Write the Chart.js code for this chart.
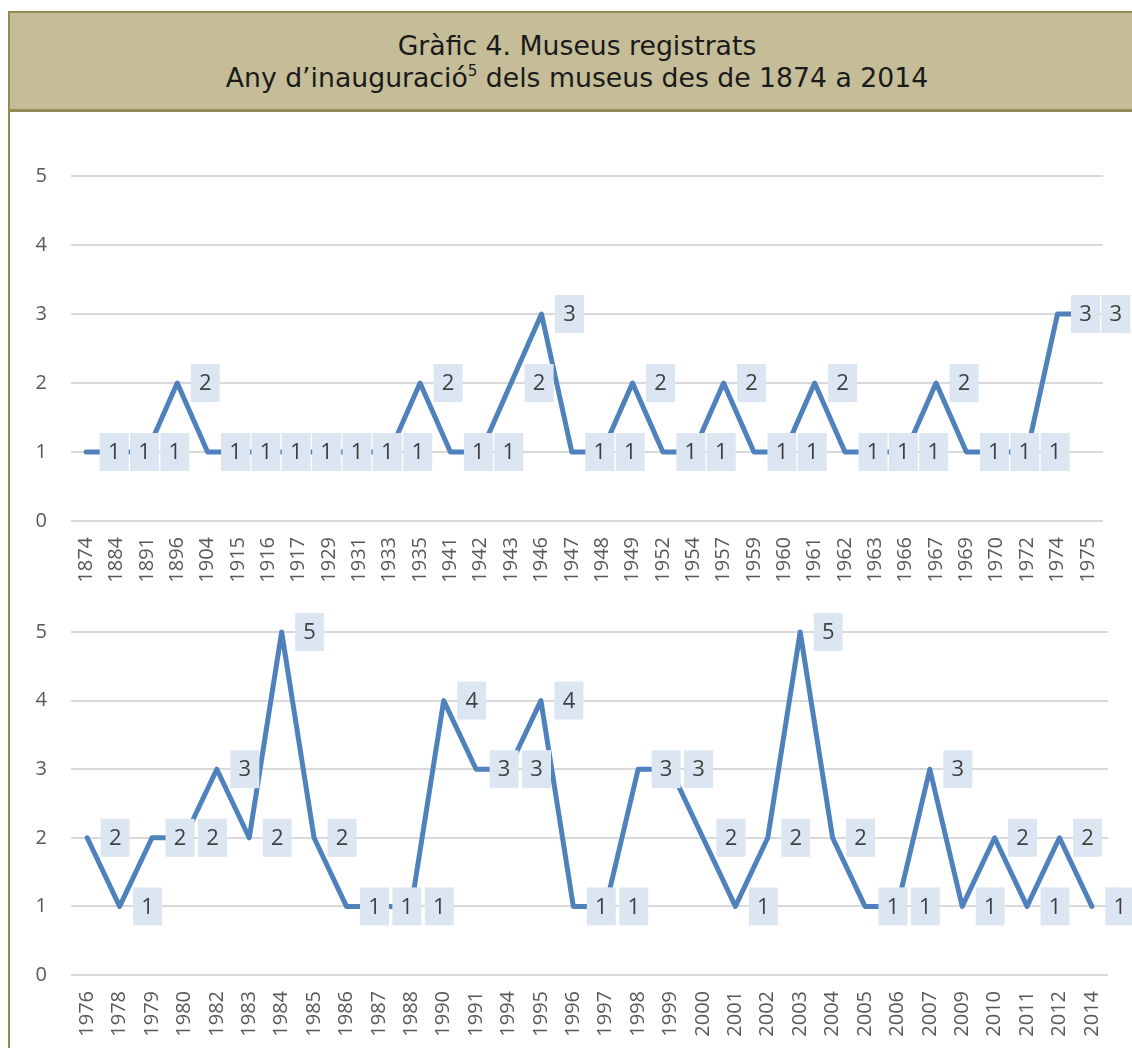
<!DOCTYPE html>
<html>
<head>
<meta charset="utf-8">
<script src="https://cdn.jsdelivr.net/npm/chart.js@4.4.0/dist/chart.umd.min.js"></script>
<style>
body{margin:0;width:1132px;height:1048px;overflow:hidden;background:#fff;position:relative;}
#leftline{position:absolute;left:8px;top:11px;width:2px;height:1040px;background:#948a54;}
#title{position:absolute;left:8px;top:11px;width:1136px;height:101px;box-sizing:border-box;background:#c4bd97;
  border-top:2px solid #948a54;border-bottom:3px solid #948a54;border-left:2px solid #948a54;
  font-family:"DejaVu Sans",sans-serif;font-size:26.7px;line-height:32px;color:#1a1a1a;text-align:center;padding-top:17px;}
#title sup{font-size:15px;line-height:0;vertical-align:0;position:relative;top:-11px;}
.wrap{position:absolute;left:10px;width:1122px;}
#w1{top:113px;height:482px;}
#w2{top:595px;height:453px;}
</style>
</head>
<body>
<div id="leftline"></div>
<div id="title">Gràfic 4. Museus registrats<br>Any d’inauguració<sup>5</sup> dels museus des de 1874 a 2014</div>
<div class="wrap" id="w1"><canvas id="chart_1" width="1122" height="482"></canvas></div>
<div class="wrap" id="w2"><canvas id="chart_2" width="1122" height="453"></canvas></div>
<script>
// 1874 - 1975
var years1 = ['1874','1884','1891','1896','1904','1915','1916','1917','1929','1931','1933','1935','1941','1942','1943','1946','1947',
              '1948','1949','1952','1954','1957','1959','1960','1961','1962','1963','1966','1967','1969','1970','1972','1974','1975'];
var museums1 = [1,1,1,2,1,1,1,1,1,1,1,2,1,1,2,3,1,
                1,2,1,1,2,1,1,2,1,1,1,2,1,1,1,3,3];

// 1976 - 2014
var years2 = ['1976','1978','1979','1980','1982','1983','1984','1985','1986','1987','1988','1990','1991','1994','1995','1996',
              '1997','1998','1999','2000','2001','2002','2003','2004','2005','2006','2007','2009','2010','2011','2012','2014'];
var museums2 = [2,1,2,2,3,2,5,2,1,1,1,4,3,3,4,1,
                1,3,3,2,1,2,5,2,1,1,3,1,2,1,2,1];

var yMin = 0;
var yMax = 5;
var yStep = 1;

var fontSize = 20;

// labels in boxes to the right of every point
var labelBoxes = {
    id: 'labelBoxes',
    afterDatasetsDraw: function(chart){
        var ctx = chart.ctx;
        var meta = chart.getDatasetMeta(0);
        var vals = chart.data.datasets[0].data;
        ctx.save();
        ctx.font = '22px "Open Sans"';
        ctx.textAlign = 'center';
        ctx.textBaseline = 'middle';
        for(var i = 0; i < meta.data.length; i++){
            var p = meta.data[i];
            var cx = p.x + 28;
            ctx.fillStyle = '#dce6f2';
            ctx.fillRect(cx - 14.5, p.y - 19, 29, 38);
            ctx.fillStyle = '#404040';
            ctx.fillText(String(vals[i]), cx, p.y + 1);
        }
        ctx.restore();
    }
};

function makeChart(id, labels, values, padTop, padRight, xHeight){
    var ctx = document.getElementById(id).getContext('2d');
    return new Chart(ctx, {
        type: 'line',
        data: {
            labels: labels,
            datasets: [{
                data: values,
                borderColor: '#4f81bd',
                borderWidth: 5,
                borderCapStyle: 'round',
                borderJoinStyle: 'round',
                pointRadius: 0,
                tension: 0,
                clip: false
            }]
        },
        options: {
            responsive: false,
            animation: false,
            devicePixelRatio: 1,
            layout: {padding: {top: padTop, right: padRight, left: 0, bottom: 0}},
            plugins: {legend: {display: false}, tooltip: {enabled: false}},
            scales: {
                x: {
                    offset: true,
                    grid: {display: false, drawTicks: false},
                    border: {display: false},
                    ticks: {
                        autoSkip: false, minRotation: 90, maxRotation: 90, padding: 16,
                        color: '#595959', font: {family: 'Open Sans', size: fontSize}
                    },
                    afterFit: function(scale){ scale.height = xHeight; }
                },
                y: {
                    min: yMin, max: yMax,
                    grid: {color: '#d9d9d9', lineWidth: 2, drawTicks: false},
                    border: {display: false},
                    ticks: {
                        stepSize: yStep, padding: 24,
                        color: '#595959', font: {family: 'Open Sans', size: fontSize}
                    },
                    afterFit: function(scale){ scale.width = 61; }
                }
            }
        },
        plugins: [labelBoxes]
    });
}

makeChart('chart_1', years1, museums1, 63, 29, 74);
makeChart('chart_2', years2, museums2, 37, 9, 73);
</script>
</body>
</html>
